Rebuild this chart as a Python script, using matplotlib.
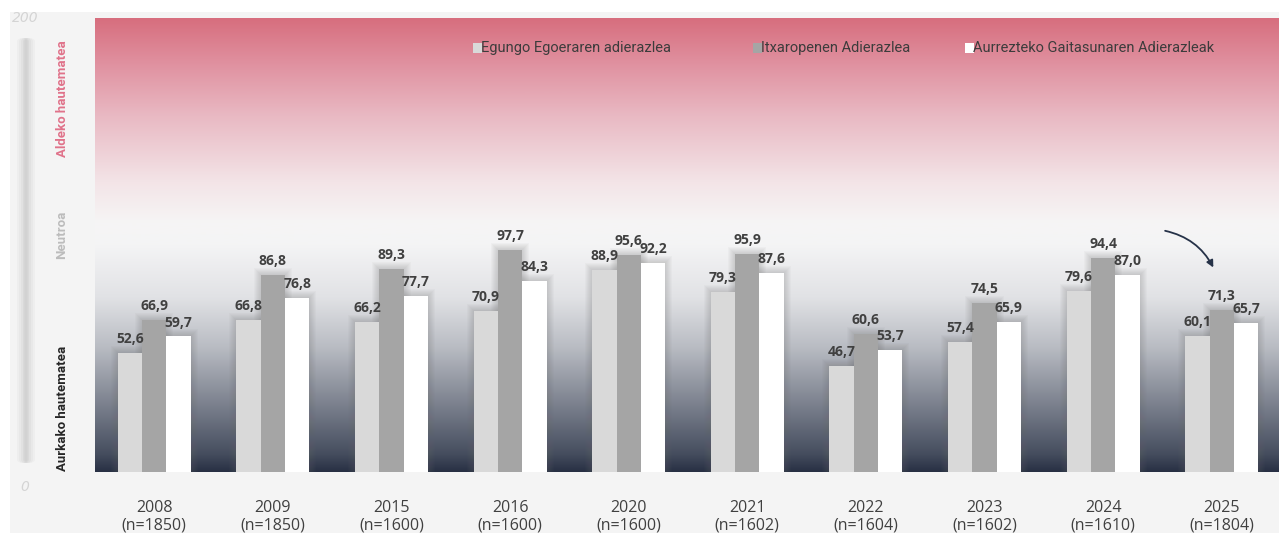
import matplotlib
matplotlib.use("Agg")
import matplotlib.pyplot as plt
import numpy as np
from matplotlib.patches import Rectangle, FancyBboxPatch

YEARS = ["2008", "2009", "2015", "2016", "2020", "2021", "2022", "2023", "2024", "2025"]
SAMPLES = ["1850", "1850", "1600", "1600", "1600", "1602", "1604", "1602", "1610", "1804"]

SERIES_NAMES = [
    "Egungo Egoeraren adierazlea",
    "Itxaropenen Adierazlea",
    "Aurrezteko Gaitasunaren Adierazleak",
]
egungo = [52.6, 66.8, 66.2, 70.9, 88.9, 79.3, 46.7, 57.4, 79.6, 60.1]
itxaropen = [66.9, 86.8, 89.3, 97.7, 95.6, 95.9, 60.6, 74.5, 94.4, 71.3]
aurrezteko = [59.7, 76.8, 77.7, 84.3, 92.2, 87.6, 53.7, 65.9, 87.0, 65.7]

BAR_COLORS = ["#d9d9d9", "#a5a5a5", "#ffffff"]
LABEL_COLOR = "#404040"
PANEL = "#f4f4f4"

W, H = 1279, 533
fig = plt.figure(figsize=(W / 100, H / 100), dpi=100)
fig.patch.set_facecolor("white")
fig.patches.append(Rectangle((10 / W, 0), 1, 1 - 12 / H, transform=fig.transFigure,
                             facecolor=PANEL, edgecolor="none", zorder=-10))

# blurred vertical scale bar on the left
for pad, a in [(9, 0.08), (7, 0.10), (5, 0.13), (3, 0.16), (1.5, 0.18)]:
    fig.patches.append(FancyBboxPatch(((26 - pad) / W, 70 / H), 2 * pad / W, 425 / H,
                                      boxstyle="round,pad=0,rounding_size=0.006",
                                      transform=fig.transFigure, facecolor="#b4b4b4",
                                      edgecolor="none", alpha=a, zorder=-9))

ax = fig.add_axes([95 / W, 61 / H, 1186 / W, 454 / H])
ax.set_xlim(-0.5, len(YEARS) - 0.5)
ax.set_ylim(0, 200)

# background gradient: dark at the bottom, neutral middle, pink at top
stops_v = [0, 8, 25, 55, 77, 100, 110, 128, 157, 180, 200]
stops_c = np.array([
    (40, 48, 68), (70, 78, 95), (112, 118, 132), (185, 188, 195), (225, 226, 229),
    (244, 244, 245), (246, 245, 245), (243, 228, 231), (233, 185, 195), (224, 145, 160),
    (215, 110, 126),
]) / 255.0
v = np.linspace(0, 200, 400)
grad = np.stack([np.interp(v, stops_v, stops_c[:, k]) for k in range(3)], axis=-1)
ax.imshow(grad[:, None, :], extent=(-0.5, len(YEARS) - 0.5, 0, 200), origin="lower",
          aspect="auto", zorder=0, interpolation="bilinear")

x = np.arange(len(YEARS))
width = 0.205
offsets = [-width, 0, width]
series = [egungo, itxaropen, aurrezteko]

# soft shadow around each bar
px_x = 1 / 118.6
px_y = 200 / 454
for off, vals in zip(offsets, series):
    for d in range(1, 8):
        ax.bar(x + off, np.array(vals) + d * px_y, width=width + 2 * d * px_x,
               color="#6e6e6e", alpha=0.04, linewidth=0, zorder=1)

for off, vals, col in zip(offsets, series, BAR_COLORS):
    ax.bar(x + off, vals, width=width, color=col, linewidth=0, zorder=2)
    for xi, val in zip(x, vals):
        ax.annotate(f"{val:.1f}".replace(".", ","), (xi + off, val), xytext=(0, 5),
                    textcoords="offset points", ha="center", va="bottom",
                    fontsize=10, fontweight="bold", color=LABEL_COLOR,
                    family="Open Sans", zorder=3)

ax.set_xticks(x)
ax.set_xticklabels([f"{y}\n(n={n})" for y, n in zip(YEARS, SAMPLES)],
                   fontsize=11.5, color=LABEL_COLOR, family="Open Sans", linespacing=1.15)
ax.tick_params(axis="x", length=0, pad=20)
ax.set_yticks([])
for s in ax.spines.values():
    s.set_visible(False)

# legend placed along the top
leg_x = [473, 753, 965]
for lx, name, col in zip(leg_x, SERIES_NAMES, BAR_COLORS):
    ax.add_patch(Rectangle(((lx - 95) / 1186, (472 - 52.5) / 454), 9 / 1186, 9 / 454,
                           transform=ax.transAxes, facecolor=col, edgecolor="none", zorder=4))
    ax.text((lx + 8 - 95) / 1186, (472 - 48) / 454, name, transform=ax.transAxes,
            ha="left", va="center", fontsize=10.5, color="#3c3c3c",
            family="Roboto", zorder=4)

# left scale labels
fig.text(25 / W, 1 - 18 / H, "200", ha="center", va="center", fontsize=10,
         style="italic", color="#d4d4d4")
fig.text(25 / W, 1 - 487 / H, "0", ha="center", va="center", fontsize=10,
         style="italic", color="#d4d4d4")
fig.text(62 / W, 1 - 99 / H, "Aldeko hautematea", rotation=90, ha="center", va="center",
         fontsize=9.5, fontweight="bold", color="#e0728a", family="Roboto")
fig.text(62 / W, 1 - 235 / H, "Neutroa", rotation=90, ha="center", va="center",
         fontsize=9.5, fontweight="bold", color="#bcbcbc", family="Roboto")
fig.text(62 / W, 1 - 408 / H, "Aurkako hautematea", rotation=90, ha="center", va="center",
         fontsize=9.5, fontweight="bold", color="#262626", family="Roboto")

# arrow pointing at the last group
ax.annotate("", xy=(8.94, 89.0), xytext=(8.5, 106.5),
            arrowprops=dict(arrowstyle="-|>", color="#263248", lw=1.3,
                            connectionstyle="arc3,rad=-0.25", mutation_scale=10),
            zorder=5)

fig.savefig("out.png", dpi=100, facecolor=fig.get_facecolor())
